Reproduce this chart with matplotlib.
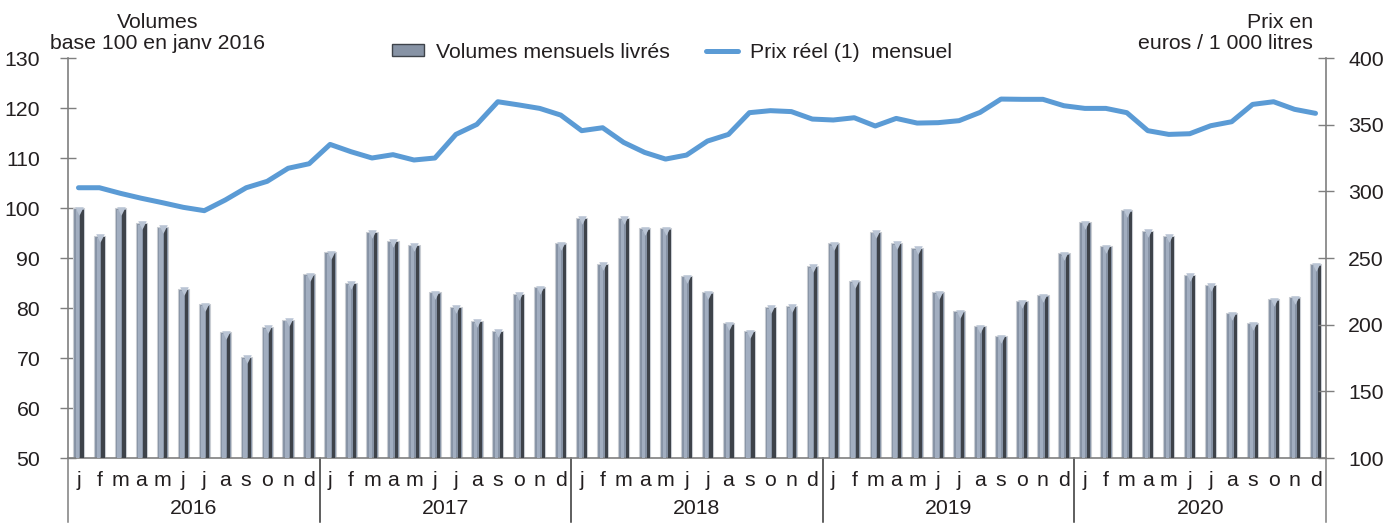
import matplotlib
matplotlib.use('Agg')
import matplotlib.pyplot as plt
from matplotlib.patches import Patch
from matplotlib.lines import Line2D
import numpy as np

plt.rcParams['font.family'] = ['Liberation Sans', 'DejaVu Sans']

# Data
years = ['2016', '2017', '2018', '2019', '2020']
month_letters = ['j', 'f', 'm', 'a', 'm', 'j', 'j', 'a', 's', 'o', 'n', 'd']

vol_2016 = [100, 94.5, 100, 97.1, 96.3, 83.9, 80.8, 75.2, 70.3, 76.3, 77.7, 86.8]
vol_2017 = [91.2, 85.1, 95.3, 93.5, 92.7, 83.2, 80.3, 77.5, 75.5, 82.9, 84.2, 93.0]
vol_2018 = [98.1, 88.9, 98.1, 95.9, 96.0, 86.4, 83.2, 77.0, 75.4, 80.3, 80.5, 88.5]
vol_2019 = [92.9, 85.4, 95.3, 93.1, 92.1, 83.2, 79.4, 76.4, 74.4, 81.4, 82.6, 90.9]
vol_2020 = [97.2, 92.4, 99.6, 95.5, 94.5, 86.7, 84.7, 79.0, 77.0, 81.8, 82.2, 88.8]

prix_2016 = [302.7, 302.7, 298.5, 294.8, 291.5, 288.0, 285.5, 293.5, 302.7, 307.5, 317.3, 320.7]
prix_2017 = [335.2, 329.7, 325.0, 327.5, 323.5, 325.0, 342.7, 350.2, 367.2, 364.8, 362.2, 357.2]
prix_2018 = [345.5, 347.7, 336.7, 329.2, 324.2, 327.2, 337.7, 342.7, 359.0, 360.5, 359.8, 354.2]
prix_2019 = [353.5, 355.2, 349.0, 354.7, 351.2, 351.5, 353.0, 359.2, 369.2, 369.0, 369.0, 364.2]
prix_2020 = [362.2, 362.2, 359.0, 345.5, 342.7, 343.2, 349.2, 352.2, 365.2, 367.2, 361.5, 358.5]

volumes = np.array(vol_2016 + vol_2017 + vol_2018 + vol_2019 + vol_2020)
prix = np.array(prix_2016 + prix_2017 + prix_2018 + prix_2019 + prix_2020)
x = np.arange(len(volumes))

text_col = '#231f20'
axis_col = '#7f7f7f'
line_col = '#5b9bd5'
fs = 15.3

fig = plt.figure(figsize=(13.98, 5.23), dpi=100)
ax = fig.add_axes([68 / 1398, 1 - 458 / 523, (1326 - 68) / 1398, 400 / 523])

# bars: base + light center + dark right side, to mimic the shaded look
ax.bar(x, volumes - 50, bottom=50, width=0.54, color='#8793a5', edgecolor='#c9cdd3', linewidth=0.8, zorder=2)
ax.bar(x - 0.06, volumes - 50.4, bottom=50, width=0.16, color='#a2aec0', linewidth=0, zorder=3)
ax.bar(x + 0.17, volumes - 50.3, bottom=50, width=0.15, color='#3e434a', linewidth=0, zorder=3)
ax.scatter(x + 0.02, volumes - 0.55, marker='v', s=38, color='#b9c4d4', linewidths=0, zorder=4)

ax.set_xlim(-0.5, len(volumes) - 0.5)
ax.set_ylim(50, 130)
ax.set_yticks(np.arange(50, 131, 10))
ax.set_xticks([])
ax.tick_params(axis='y', direction='inout', length=12, width=1, color=axis_col,
               labelsize=fs, labelcolor=text_col, pad=14)
for s in ['top', 'right']:
    ax.spines[s].set_visible(False)
ax.spines['left'].set_color(axis_col)
ax.spines['bottom'].set_color(axis_col)
ax.spines['left'].set_linewidth(1.2)
ax.spines['bottom'].set_linewidth(1.2)

# price line on the right axis
ax2 = ax.twinx()
ax2.plot(x, prix, color=line_col, linewidth=3.6, solid_capstyle='round', zorder=5)
ax2.set_ylim(100, 400)
ax2.set_yticks(np.arange(100, 401, 50))
ax2.tick_params(axis='y', direction='inout', length=12, width=1, color=axis_col,
                labelsize=fs, labelcolor=text_col, pad=10)
for s in ['top', 'left', 'bottom']:
    ax2.spines[s].set_visible(False)
ax2.spines['right'].set_color(axis_col)
ax2.spines['right'].set_linewidth(1.2)

# month letters and year labels under the axis
trans = ax.get_xaxis_transform()
for i in x:
    ax.text(i, -0.055, month_letters[i % 12], transform=trans, ha='center', va='center',
            fontsize=fs, color=text_col)
for k, yr in enumerate(years):
    ax.text(k * 12 + 5.5, -0.125, yr, transform=trans, ha='center', va='center',
            fontsize=fs, color=text_col)
for k in range(len(years) + 1):
    col = axis_col if k in (0, len(years)) else '#333333'
    ax.plot([k * 12 - 0.5, k * 12 - 0.5], [0, -0.16], transform=trans, color=col,
            linewidth=1.1, clip_on=False)

# axis titles
fig.text(158 / 1398, 1 - 33 / 523, 'Volumes\nbase 100 en janv 2016', ha='center', va='center',
         fontsize=fs, color=text_col, linespacing=1.15)
fig.text(1313 / 1398, 1 - 33 / 523, 'Prix en\neuros / 1 000 litres', ha='right', va='center',
         fontsize=fs, color=text_col, linespacing=1.15)

# legend
handles = [Patch(facecolor='#8793a5', edgecolor='#3e434a', linewidth=1.0),
           Line2D([0], [0], color=line_col, linewidth=3.6, solid_capstyle='round')]
labels = ['Volumes mensuels livrés', 'Prix réel (1)  mensuel']
fig.legend(handles, labels, loc='center', bbox_to_anchor=(672 / 1398, 1 - 52 / 523), ncol=2,
           frameon=False, fontsize=fs, handlelength=1.5, handleheight=0.45, handletextpad=0.55,
           columnspacing=1.7, labelcolor=text_col)

fig.savefig('out.png', dpi=100)
